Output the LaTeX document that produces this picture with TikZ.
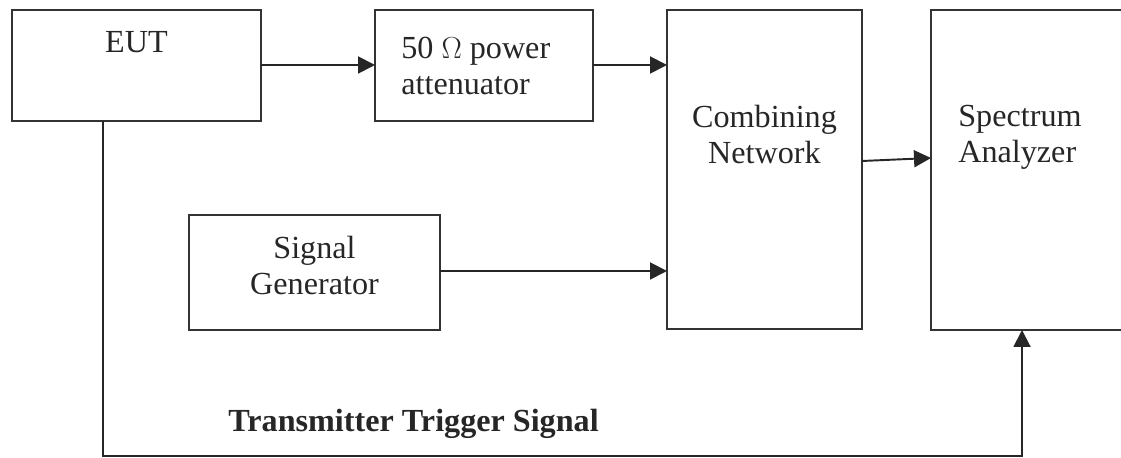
\documentclass[tikz,border=0pt]{standalone}
\usepackage{fontspec}
\setmainfont{Liberation Serif}
\usetikzlibrary{positioning,arrows.meta}
\def\chartlw{1.1pt}
\def\chartboxh{2.22cm}
\def\charttall{6.38cm}

\begin{document}
\begin{tikzpicture}[
            font=\fontsize{18.3}{20.5}\selectfont,
            block/.style={%
                line width=\chartlw, rectangle, draw=black!80,%
                minimum height=\chartboxh, inner sep=0pt, outer sep=0pt%
            },
            tall/.style={%
                block, minimum height=\charttall%
            },
            blocktext/.style={%
                inner sep=0pt, text=black!85%
            },
            arrow/.style={line width=\chartlw, draw=black!85,%
                -{Triangle[length=0.34cm,width=0.34cm]}}
        ]

        \useasboundingbox (0,0) rectangle (22.42,-9.16);

        % Define nodes
        \node (eut) [block, minimum width=4.98cm, anchor=north west]
            at (0.24,-0.20) {};
        \node (atten) [block, minimum width=4.36cm,
            right=2.28cm of eut.north east, anchor=north west] {};
        \node (comb) [tall, minimum width=3.90cm,
            right=1.48cm of atten.north east, anchor=north west] {};
        \node (spec) [tall, minimum width=4.20cm, minimum height=6.40cm,
            right=1.38cm of comb.north east, anchor=north west] {};
        \node (siggen) [block, minimum width=5.02cm, minimum height=2.30cm,
            below=1.88cm of eut.south west, anchor=north west,
            xshift=3.54cm] {};

        % Texts inside the blocks
        \node (eutText) [blocktext, anchor=base]
            at ([yshift=-0.86cm]eut.north) {EUT};
        \node (attenText) [blocktext, align=left, anchor=west]
            at ([xshift=0.52cm]atten.west) {50 $\Omega$ power\\attenuator};
        \node (combText) [blocktext, align=center, anchor=north]
            at ([yshift=-1.90cm]comb.north) {Combining\\Network};
        \node (specText) [blocktext, align=left, anchor=north west]
            at ([xshift=0.54cm,yshift=-1.90cm]spec.north west)
            {Spectrum\\Analyzer};
        \node (siggenText) [blocktext, align=center, anchor=north]
            at ([yshift=-0.42cm]siggen.north) {Signal\\Generator};

        % Forward path
        \draw [arrow] ([yshift=-1.10cm]eut.north east)
            -- ([yshift=-1.10cm]atten.north west);
        \draw [arrow] ([yshift=-1.10cm]atten.north east)
            -- ([yshift=-1.10cm]comb.north west);
        \draw [arrow] ([yshift=-1.12cm]siggen.north east)
            -- ([yshift=-1.12cm]siggen.north east -| comb.west);
        \draw [arrow] ([yshift=-3.02cm]comb.north east)
            -- ([yshift=-2.96cm]spec.north west);

        % Trigger path
        \coordinate (trigStart) at ([xshift=1.82cm]eut.south west);
        \coordinate (trigCorner) at ([yshift=-6.70cm]trigStart);
        \coordinate (trigEnd) at ([xshift=1.82cm]spec.south west);
        \draw [arrow] (trigStart) -- (trigCorner) -| (trigEnd);

        \node (trigLabel) [blocktext, anchor=base west, font=\fontsize{18.3}{20.5}\selectfont\bfseries]
            at ([xshift=2.50cm,yshift=0.48cm]trigCorner)
            {Transmitter Trigger Signal};

        \end{tikzpicture}
\end{document}
